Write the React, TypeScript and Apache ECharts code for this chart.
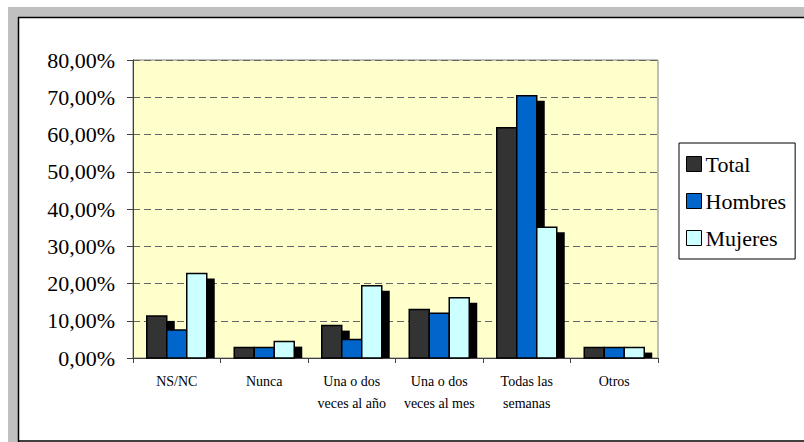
import React, { useEffect, useRef } from "react";
import * as echarts from "echarts";

const categories = [
  "NS/NC",
  "Nunca",
  "Una o dos\nveces al año",
  "Una o dos\nveces al mes",
  "Todas las\nsemanas",
  "Otros",
];
const seriesNames = ["Total", "Hombres", "Mujeres"];
const totalValues = [11.3, 2.8, 8.7, 13.0, 61.8, 2.8];
const hombresValues = [7.5, 2.8, 5.0, 12.0, 70.4, 2.8];
const mujeresValues = [22.7, 4.4, 19.4, 16.2, 35.1, 2.8];
const seriesColors = ["#333333", "#0066CC", "#CCFFFF"];

const FONT = "Liberation Serif";
const BAR_W = 20;
const OFFSETS = [-30, -10, 10];
const SH_DX = 8;
const SH_DY = 5;

export default function App() {
  const ref = useRef<HTMLDivElement>(null);
  useEffect(() => {
    if (!ref.current) return;
    const chart = echarts.init(ref.current, undefined, { renderer: "svg" });
    const allValues = [totalValues, hombresValues, mujeresValues];
    const makeSeries = (si: number) => ({
      type: "custom",
      name: seriesNames[si],
      itemStyle: { color: seriesColors[si], borderColor: "#000", borderWidth: 1 },
      data: allValues[si].map((v, i) => [i, v]),
      encode: { x: 0, y: 1 },
      renderItem: (params: any, api: any) => {
        const p = api.coord([api.value(0), api.value(1)]);
        const b = api.coord([api.value(0), 0]);
        const x = p[0] + OFFSETS[params.seriesIndex];
        const top = p[1];
        const base = b[1];
        const sh = Math.max(0, base - top - SH_DY);
        return {
          type: "group",
          children: [
            {
              type: "rect",
              shape: { x: x + SH_DX, y: top + SH_DY, width: BAR_W, height: sh },
              style: { fill: "#000" },
            },
            {
              type: "rect",
              shape: { x, y: top, width: BAR_W, height: base - top },
              style: { fill: seriesColors[params.seriesIndex], stroke: "#000", lineWidth: 1.5 },
            },
          ],
        };
      },
    });
    chart.setOption({
      animation: false,
      backgroundColor: "#fff",
      graphic: [
        { type: "rect", z: -10, shape: { x: 8, y: 7, width: 796, height: 10 }, style: { fill: "#C0C0C0" } },
        { type: "rect", z: -10, shape: { x: 8, y: 7, width: 10, height: 435 }, style: { fill: "#C0C0C0" } },
        { type: "line", z: -9, shape: { x1: 18, y1: 17.5, x2: 804, y2: 17.5 }, style: { stroke: "#000", lineWidth: 1.5 } },
        { type: "line", z: -9, shape: { x1: 18.5, y1: 17, x2: 18.5, y2: 442 }, style: { stroke: "#000", lineWidth: 1.5 } },
        { type: "line", z: -9, shape: { x1: 18, y1: 441, x2: 804, y2: 441 }, style: { stroke: "#000", lineWidth: 1.5 } },
      ],
      grid: {
        left: 133,
        top: 60,
        right: 146,
        bottom: 84,
        show: true,
        backgroundColor: "#FFFFCC",
        borderColor: "#808080",
        borderWidth: 1,
      },
      legend: {
        orient: "vertical",
        left: 679,
        top: 143,
        data: seriesNames,
        icon: "rect",
        itemWidth: 15,
        itemHeight: 15,
        itemGap: 15,
        itemStyle: { borderColor: "#000", borderWidth: 1 },
        padding: [10, 9, 10, 7],
        borderColor: "#000",
        borderWidth: 1,
        backgroundColor: "#fff",
        textStyle: { fontSize: 22, fontFamily: FONT, color: "#000", lineHeight: 22, padding: [0, 0, 0, -1] },
      },
      xAxis: {
        type: "category",
        data: categories,
        axisLine: { lineStyle: { color: "#404040", width: 1 } },
        axisTick: { show: true, length: 5, lineStyle: { color: "#404040" } },
        axisLabel: {
          interval: 0,
          fontSize: 14,
          lineHeight: 22,
          fontFamily: FONT,
          color: "#000",
          margin: 12,
        },
      },
      yAxis: {
        type: "value",
        min: 0,
        max: 80,
        interval: 10,
        axisLine: { show: true, lineStyle: { color: "#404040", width: 1 } },
        axisTick: { show: true, length: 6, lineStyle: { color: "#404040" } },
        axisLabel: {
          fontSize: 22,
          fontFamily: FONT,
          color: "#000",
          margin: 18,
          formatter: (v: number) => v.toFixed(2).replace(".", ",") + "%",
        },
        splitLine: { show: true, lineStyle: { color: "#666", type: [7, 4], width: 1 } },
      },
      series: [makeSeries(0), makeSeries(1), makeSeries(2)],
    });
    return () => chart.dispose();
  }, []);
  return (
    <div
      ref={ref}
      style={{ position: "fixed", left: 0, top: 0, width: 804, height: 442 }}
    />
  );
}
